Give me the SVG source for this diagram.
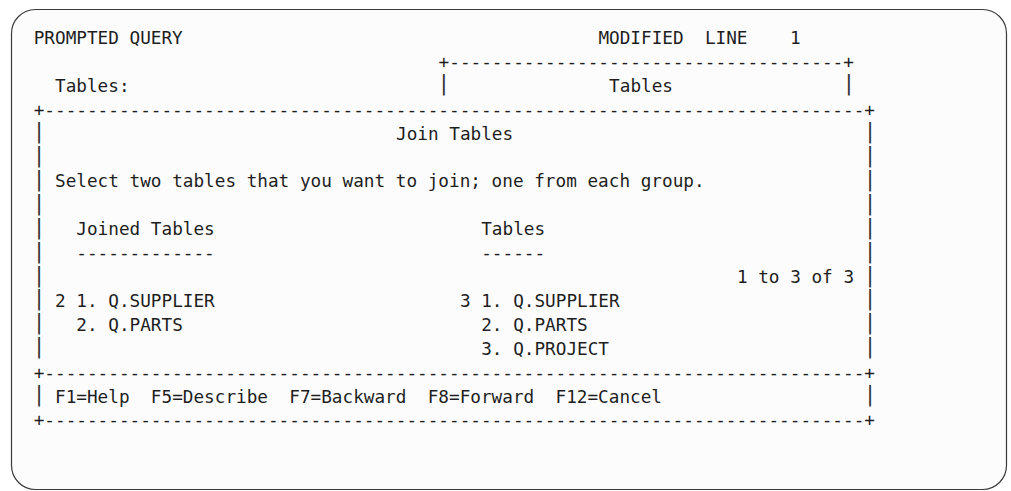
<svg xmlns="http://www.w3.org/2000/svg" width="1011" height="491" viewBox="0 0 1011 491">
  <style>
    .t { font-family: "DejaVu Sans Mono", "Liberation Mono", monospace; font-size: 17.7px; fill: #1e1e1e; white-space: pre; }
    .b { font-family: "DejaVu Sans Mono", "Liberation Mono", monospace; font-size: 21px; fill: #333333; text-anchor: middle; }
    .frame { fill: #fcfcfc; stroke: #3a3a3a; stroke-width: 1.2; }
  </style>
  <rect width="1011" height="491" fill="#ffffff"/>
  <g id="screen-frame">
    <rect class="frame" x="11.5" y="9.5" width="995" height="480" rx="24" ry="24"/>
  </g>
  <g id="header">
    <text class="t" x="33.7" y="44" xml:space="preserve">PROMPTED QUERY</text>
    <text class="t" x="598.4" y="44" xml:space="preserve">MODIFIED  LINE    1</text>
    <text class="t" x="438.6" y="67.9" xml:space="preserve">+-------------------------------------+</text>
    <text class="t" x="55" y="91.8" xml:space="preserve">Tables:</text>
    <text class="t" x="609.1" y="91.8" xml:space="preserve">Tables</text>
    <text class="b" x="443.9" y="90.3">|</text>
    <text class="b" x="848.8" y="90.3">|</text>
  </g>
  <g id="join-window">
    <text class="t" x="33.7" y="115.7" xml:space="preserve">+-----------------------------------------------------------------------------+</text>
    <text class="t" x="396" y="139.6" xml:space="preserve">Join Tables</text>
    <text class="t" x="55" y="187.4" xml:space="preserve">Select two tables that you want to join; one from each group.</text>
    <text class="t" x="76.3" y="235.2" xml:space="preserve">Joined Tables</text>
    <text class="t" x="481.2" y="235.2" xml:space="preserve">Tables</text>
    <text class="t" x="76.3" y="259.1" xml:space="preserve">-------------</text>
    <text class="t" x="481.2" y="259.1" xml:space="preserve">------</text>
    <text class="t" x="736.9" y="283" xml:space="preserve">1 to 3 of 3</text>
    <text class="t" x="55" y="306.9" xml:space="preserve">2 1. Q.SUPPLIER</text>
    <text class="t" x="459.9" y="306.9" xml:space="preserve">3 1. Q.SUPPLIER</text>
    <text class="t" x="76.3" y="330.8" xml:space="preserve">2. Q.PARTS</text>
    <text class="t" x="481.2" y="330.8" xml:space="preserve">2. Q.PARTS</text>
    <text class="t" x="481.2" y="354.7" xml:space="preserve">3. Q.PROJECT</text>
    <text class="t" x="33.7" y="378.6" xml:space="preserve">+-----------------------------------------------------------------------------+</text>
    <text class="t" x="55" y="402.5" xml:space="preserve">F1=Help  F5=Describe  F7=Backward  F8=Forward  F12=Cancel</text>
    <text class="t" x="33.7" y="426.4" xml:space="preserve">+-----------------------------------------------------------------------------+</text>
  </g>
  <g id="window-sides">
    <text class="b" x="39" y="138.1">|</text>
    <text class="b" x="39" y="162">|</text>
    <text class="b" x="39" y="185.9">|</text>
    <text class="b" x="39" y="209.8">|</text>
    <text class="b" x="39" y="233.7">|</text>
    <text class="b" x="39" y="257.6">|</text>
    <text class="b" x="39" y="281.5">|</text>
    <text class="b" x="39" y="305.4">|</text>
    <text class="b" x="39" y="329.3">|</text>
    <text class="b" x="39" y="353.2">|</text>
    <text class="b" x="39" y="401">|</text>
    <text class="b" x="870.1" y="138.1">|</text>
    <text class="b" x="870.1" y="162">|</text>
    <text class="b" x="870.1" y="185.9">|</text>
    <text class="b" x="870.1" y="209.8">|</text>
    <text class="b" x="870.1" y="233.7">|</text>
    <text class="b" x="870.1" y="257.6">|</text>
    <text class="b" x="870.1" y="281.5">|</text>
    <text class="b" x="870.1" y="305.4">|</text>
    <text class="b" x="870.1" y="329.3">|</text>
    <text class="b" x="870.1" y="353.2">|</text>
    <text class="b" x="870.1" y="401">|</text>
  </g>
</svg>
